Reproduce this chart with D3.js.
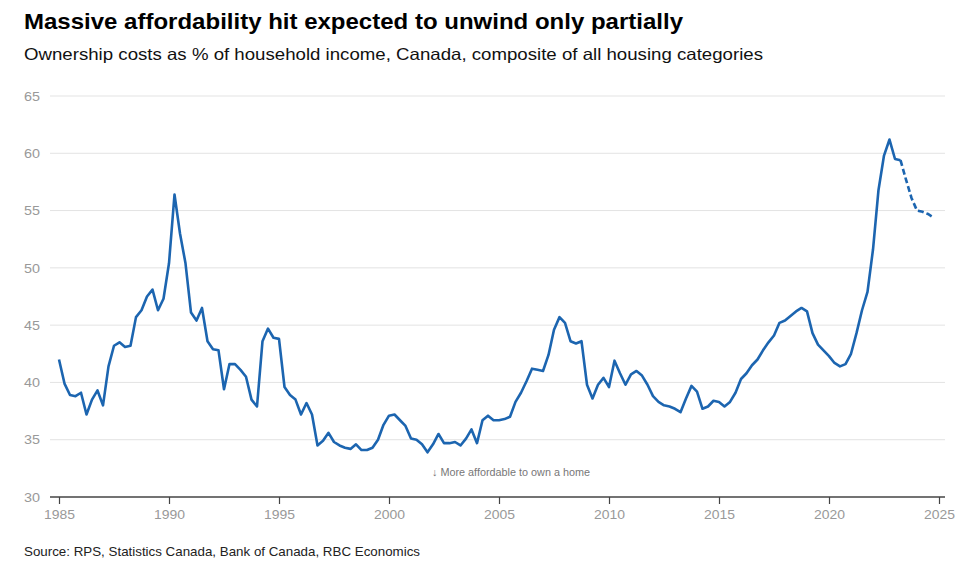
<!DOCTYPE html>
<html>
<head>
<meta charset="utf-8">
<script src="https://cdn.jsdelivr.net/npm/d3@7"></script>
<style>
  body { margin: 0; background: #fff; }
  svg { display: block; }
</style>
</head>
<body>
<svg id="chart" width="960" height="577"></svg>
<script>
// Quarterly values, 1985Q1 .. 2024Q4
const startYear = 1985;
const actualValues = [
  42.0, 39.9, 38.9, 38.8,
  39.1, 37.2, 38.5, 39.3,
  38.0, 41.4, 43.2, 43.5,
  43.1, 43.2, 45.7, 46.3,
  47.5, 48.1, 46.3, 47.3,
  50.4, 56.4, 53.0, 50.4,
  46.1, 45.4, 46.5, 43.6,
  42.9, 42.8, 39.4, 41.6,
  41.6, 41.1, 40.5, 38.5,
  37.9, 43.6, 44.7, 43.9,
  43.8, 39.6, 38.9, 38.5,
  37.2, 38.2, 37.2, 34.5,
  34.9, 35.6, 34.8, 34.5,
  34.3, 34.2, 34.6, 34.1,
  34.1, 34.3, 35.0, 36.3,
  37.1, 37.2, 36.7, 36.2,
  35.1, 35.0, 34.6, 33.9,
  34.6, 35.5, 34.7, 34.7,
  34.8, 34.5, 35.1, 35.9,
  34.7, 36.7, 37.1, 36.7,
  36.7, 36.8, 37.0, 38.3,
  39.1, 40.1, 41.2, 41.1,
  41.0, 42.4, 44.6, 45.7,
  45.2, 43.6, 43.4, 43.6,
  39.8, 38.6, 39.8, 40.4,
  39.6, 41.9, 40.8, 39.8,
  40.7, 41.0, 40.6, 39.8,
  38.8, 38.3, 38.0, 37.9,
  37.7, 37.4, 38.6, 39.7,
  39.2, 37.7, 37.9, 38.4,
  38.3, 37.9, 38.3, 39.1,
  40.3, 40.8, 41.5, 42.0,
  42.8, 43.5, 44.1, 45.2,
  45.4, 45.8, 46.2, 46.5,
  46.2, 44.3, 43.3, 42.8,
  42.3, 41.7, 41.4, 41.6,
  42.5, 44.3, 46.3, 47.9,
  51.6, 56.8, 59.8, 61.2,
  59.5, 59.4
];
// Forecast continues from 2023Q2 (last actual) to 2024Q4
const forecastValues = [59.4, 57.7, 56.1, 55.0, 54.9, 54.7, 54.4];

const yTicks = [30, 35, 40, 45, 50, 55, 60, 65];
const xTicks = [1985, 1990, 1995, 2000, 2005, 2010, 2015, 2020, 2025];

const titleText = "Massive affordability hit expected to unwind only partially";
const subtitleText = "Ownership costs as % of household income, Canada, composite of all housing categories";
const sourceText = "Source: RPS, Statistics Canada, Bank of Canada, RBC Economics";
const noteText = "\u2193 More affordable to own a home";

const actual = actualValues.map((v, i) => ({ t: startYear + i / 4, v }));
const fStart = actualValues.length - 1;
const forecast = forecastValues.map((v, i) => ({ t: startYear + (fStart + i) / 4, v }));

const svg = d3.select("#chart");
const plotLeft = 50, plotRight = 945, plotTop = 96, plotBottom = 497;
const font = "Liberation Sans, Arial, Helvetica, sans-serif";

const x = d3.scaleLinear().domain([1985, 2025]).range([59, 939]);
const y = d3.scaleLinear().domain([30, 65]).range([plotBottom, plotTop]);

// Title & subtitle
svg.append("text").attr("x", 24).attr("y", 29)
  .attr("font-family", font)
  .attr("font-weight", "bold").attr("font-size", 21.5).attr("fill", "#000")
  .attr("textLength", 659).attr("lengthAdjust", "spacingAndGlyphs")
  .text(titleText);
svg.append("text").attr("x", 24).attr("y", 60)
  .attr("font-family", font)
  .attr("font-size", 16.5).attr("fill", "#111")
  .attr("textLength", 739).attr("lengthAdjust", "spacingAndGlyphs")
  .text(subtitleText);

// Gridlines
svg.append("g").selectAll("line").data(yTicks.filter(d => d !== 30)).join("line")
  .attr("x1", plotLeft).attr("x2", plotRight)
  .attr("y1", d => y(d)).attr("y2", d => y(d))
  .attr("stroke", "#e3e3e3").attr("stroke-width", 1);

// Y labels
svg.append("g").selectAll("text").data(yTicks).join("text")
  .attr("x", 24).attr("y", d => y(d)).attr("dy", "0.35em")
  .attr("font-family", font)
  .attr("font-size", 13.5).attr("fill", "#999")
  .attr("textLength", 16).attr("lengthAdjust", "spacingAndGlyphs")
  .text(d => d);

// X axis
const xAxis = d3.axisBottom(x).tickValues(xTicks).tickFormat(d3.format("d"))
  .tickSize(7).tickPadding(5);
const gx = svg.append("g").attr("transform", `translate(0,${plotBottom})`).call(xAxis);
gx.select(".domain").attr("d", `M${plotLeft},0H${plotRight}`).attr("stroke", "#444").attr("stroke-width", 1.5);
gx.selectAll(".tick line").attr("stroke", "#444").attr("stroke-width", 1.2);
gx.selectAll(".tick text")
  .attr("font-family", font)
  .attr("font-size", 13.5).attr("fill", "#999")
  .attr("textLength", 31).attr("lengthAdjust", "spacingAndGlyphs");

// Lines
const line = d3.line().x(d => x(d.t)).y(d => y(d.v));
svg.append("path").datum(actual).attr("d", line)
  .attr("fill", "none").attr("stroke", "#1c65b0").attr("stroke-width", 2.6)
  .attr("stroke-linejoin", "round");
svg.append("path").datum(forecast).attr("d", line)
  .attr("fill", "none").attr("stroke", "#1c65b0").attr("stroke-width", 2.6)
  .attr("stroke-dasharray", "6,3");

// Note
svg.append("text").attr("x", 511).attr("y", 476).attr("text-anchor", "middle")
  .attr("font-family", font)
  .attr("font-size", 10.5).attr("fill", "#777")
  .attr("textLength", 158).attr("lengthAdjust", "spacingAndGlyphs")
  .text(noteText);

// Source
svg.append("text").attr("x", 24).attr("y", 556)
  .attr("font-family", font)
  .attr("font-size", 13).attr("fill", "#222")
  .attr("textLength", 396).attr("lengthAdjust", "spacingAndGlyphs")
  .text(sourceText);
</script>
</body>
</html>
